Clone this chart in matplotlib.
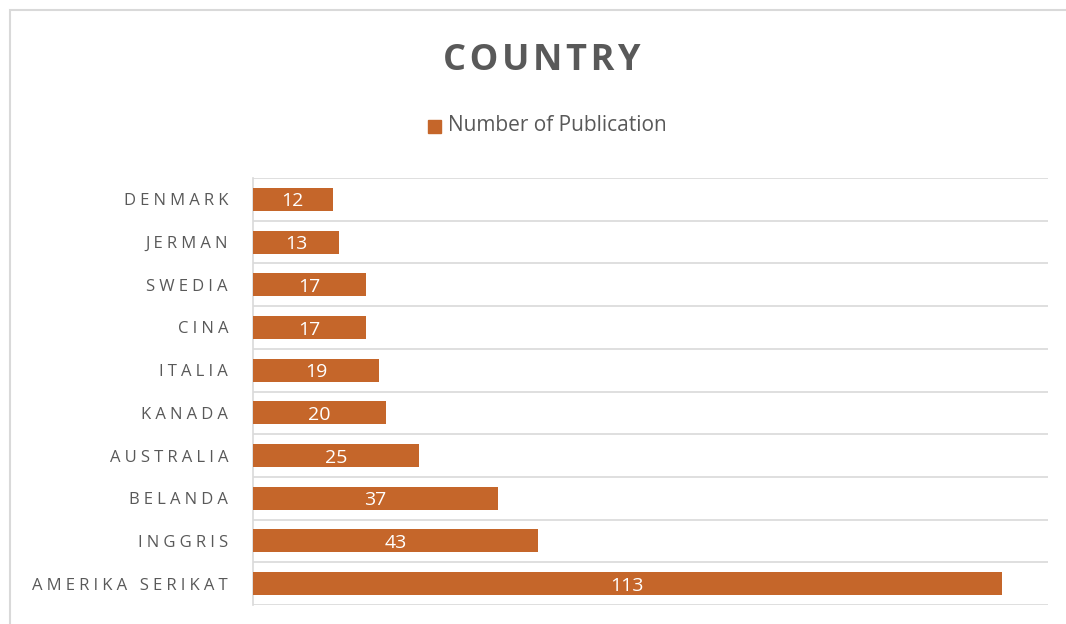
import matplotlib.pyplot as plt
from matplotlib.patches import Rectangle

# Data
countries = ["AMERIKA SERIKAT", "INGGRIS", "BELANDA", "AUSTRALIA", "KANADA",
             "ITALIA", "CINA", "SWEDIA", "JERMAN", "DENMARK"]
publications = [113, 43, 37, 25, 20, 19, 17, 17, 13, 12]

bar_color = "#C5662A"
text_color = "#595959"
grid_color = "#D9D9D9"
fam = ["Open Sans", "DejaVu Sans"]

def spaced(s, sep="\u2005"):
    return sep.join(s)

fig = plt.figure(figsize=(10.66, 6.24), dpi=100)

# chart border
fig.patches.append(Rectangle((10 / 1066, -0.1), 1.2, (614 / 624) + 0.1, transform=fig.transFigure,
                             fill=False, edgecolor=grid_color, linewidth=1.5))

ax = fig.add_axes([253 / 1066, 1 - 605 / 624, (1048 - 253) / 1066, (605 - 178) / 624])

y = list(range(len(countries)))
ax.barh(y, publications, height=0.54, color=bar_color, zorder=3)

for yi, v in zip(y, publications):
    ax.text(v / 2, yi - 0.05, str(v), ha="center", va="center", color="white",
            fontsize=14, family=fam, zorder=4)

ax.set_xlim(0, 120)
ax.set_ylim(-0.5, len(countries) - 0.5)
ax.set_xticks([])
ax.set_yticks(y)
ax.set_yticklabels([spaced(c) for c in countries], family=fam, fontsize=12, color=text_color)
ax.tick_params(axis="y", length=0, pad=18)
ax.set_yticks([i - 0.5 for i in range(len(countries) + 1)], minor=True)
ax.tick_params(axis="y", which="minor", length=0)
ax.grid(axis="y", which="minor", color=grid_color, linewidth=1.2, zorder=0)
for s in ["top", "right", "bottom"]:
    ax.spines[s].set_visible(False)
ax.spines["left"].set_color(grid_color)
ax.spines["left"].set_linewidth(1.2)

fig.text(542 / 1066, 1 - 61 / 624, spaced("COUNTRY", "\u200a"), ha="center", va="center",
         fontsize=26, fontweight="bold", color=text_color, family=fam)

# legend
fig.patches.append(Rectangle((428 / 1066, 1 - 133 / 624), 13 / 1066, 13 / 624,
                             transform=fig.transFigure, color=bar_color))
fig.text(448 / 1066, 1 - 126 / 624, "Number of Publication", ha="left", va="center",
         fontsize=15, color=text_color, family=fam)

fig.savefig("out.png", dpi=100)
